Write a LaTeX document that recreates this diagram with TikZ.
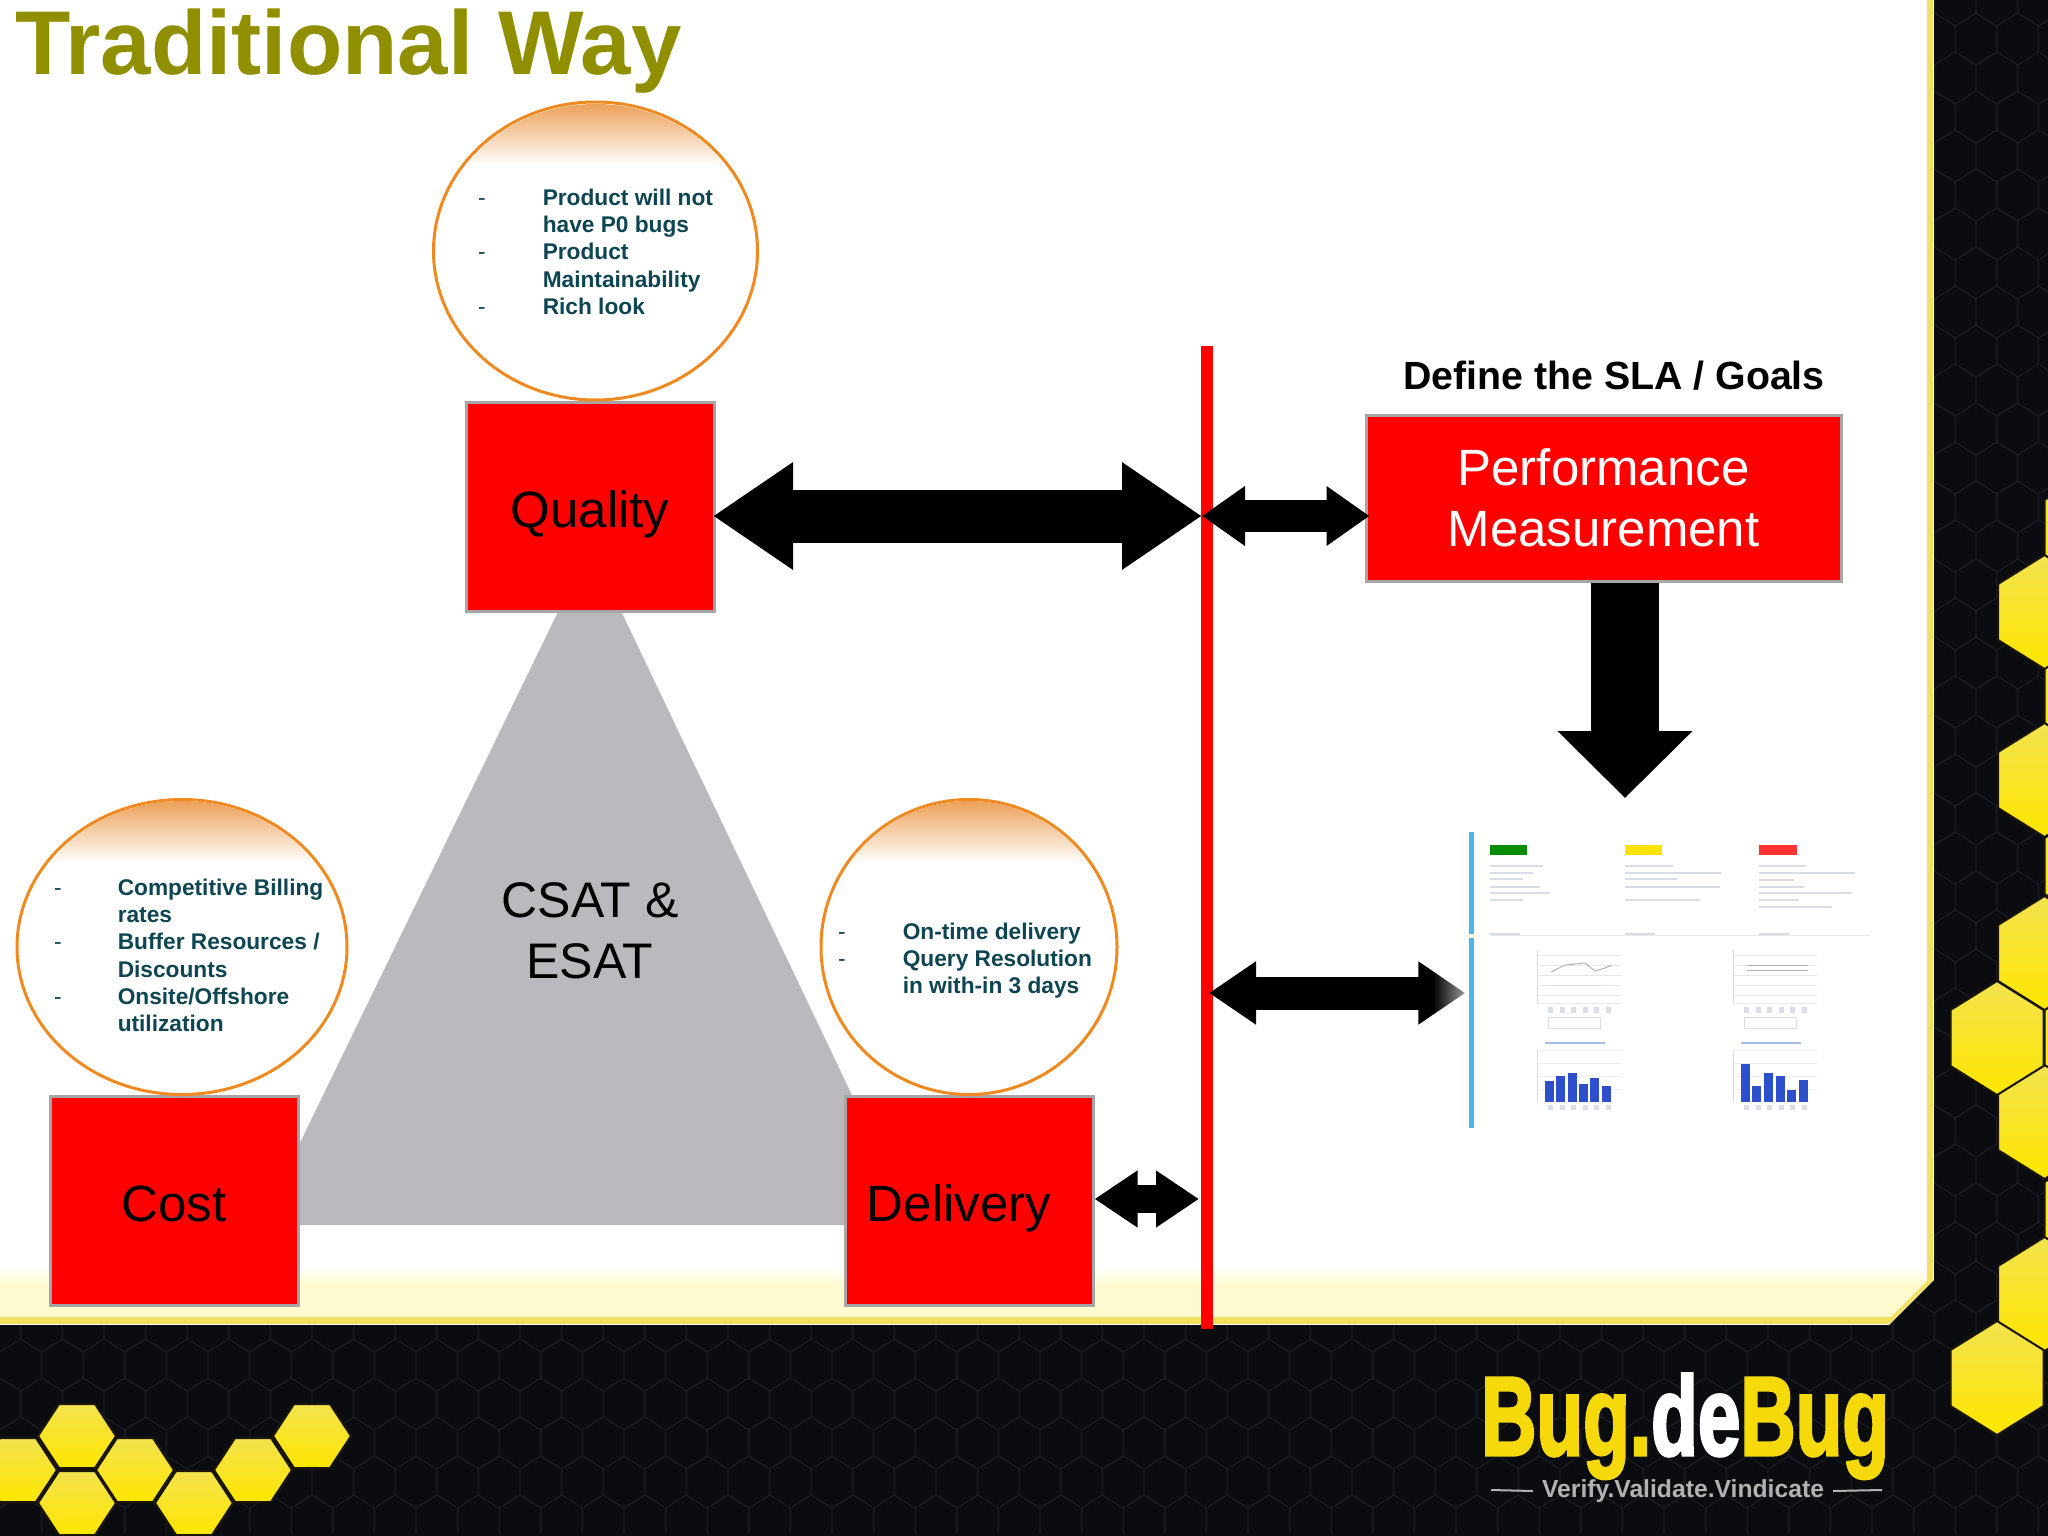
\documentclass[tikz,border=0pt]{standalone}
\usepackage{fontspec}
\setmainfont{Liberation Sans}
\newfontfamily\logofont{Liberation Sans Bold}[FakeBold=3]
\usetikzlibrary{arrows.meta}
\usetikzlibrary{fadings}
\usetikzlibrary{shapes.geometric}
\definecolor{backdark}{HTML}{0A0C10}
\definecolor{combline}{HTML}{181B20}
\definecolor{celledge}{HTML}{1A1608}
\definecolor{edgeyellow}{HTML}{F2E15C}
\definecolor{paleyellow}{HTML}{FEFAD0}
\definecolor{cellyellow}{HTML}{FFE600}
\definecolor{celllight}{HTML}{F3E34E}
\definecolor{titleolive}{HTML}{8F8F00}
\definecolor{noteteal}{HTML}{0E4552}
\definecolor{capband}{HTML}{EB9C50}
\definecolor{capedge}{HTML}{F08A20}
\definecolor{boxedge}{HTML}{A6A6A6}
\definecolor{trianglegray}{HTML}{BBB9BD}
\definecolor{dashblue}{HTML}{4DB5EE}
\definecolor{dashbar}{HTML}{2E4FCB}
\definecolor{dashrow}{HTML}{D9DDE6}
\definecolor{logoyellow}{HTML}{F5D90A}
\tikzfading[name=tipfade, left color=transparent!100, right color=transparent!35]
\newcommand{\hexcell}[2]{\shadedraw[draw=celledge,line width=2pt,top color=celllight,bottom color=cellyellow] (#1-46.5,#2-28)--(#1,#2-57)--(#1+46.5,#2-28)--(#1+46.5,#2+28)--(#1,#2+57)--(#1-46.5,#2+28)--cycle;}
\newcommand{\flatcell}[2]{\shadedraw[draw=celledge,line width=2pt,top color=celllight,bottom color=cellyellow] (#1-39,#2)--(#1-18,#2-32)--(#1+18,#2-32)--(#1+39,#2)--(#1+18,#2+32)--(#1-18,#2+32)--cycle;}
\begin{document}
\begin{tikzpicture}[x=1pt,y=-1pt,
factor/.style={rectangle,draw=boxedge,line width=3pt,fill=red,minimum width=248pt,minimum height=209pt,inner sep=0pt,font=\fontsize{51}{61}\selectfont,align=center},
oneline/.style={text height=41pt,text depth=0pt},
bubble/.style={ellipse,draw=capedge,line width=3pt,fill=white,inner sep=0pt},
note/.style={anchor=north west,inner sep=0pt,text=noteteal,font=\fontsize{22.7}{27.3}\selectfont\bfseries},
blockarrow/.style args={#1/#2/#3}{line width=#1pt,arrows={{Triangle[length=#2pt,width=#3pt]}-{Triangle[length=#2pt,width=#3pt]}}},
]
\useasboundingbox (0,0) rectangle (2048,1536);
\fill[backdark] (0,0) rectangle (2048,1536);
\foreach \row in {0,...,39}
 \foreach \col in {0,...,49}{
  \pgfmathsetmacro{\hx}{\col*41.6+mod(\row,2)*20.8}
  \pgfmathsetmacro{\hy}{\row*39}
  \draw[combline,line width=1.4pt] (\hx-20.8,\hy-13)--(\hx,\hy-26)--(\hx+20.8,\hy-13)--(\hx+20.8,\hy+13);
 }
\foreach \cx/\cy in {2091/528,2091/696,2091/866,2091/1038,2091/1210,2044.5/612,2044.5/780,2044.5/953,2044.5/1122,2044.5/1294,1997/1038,1997/1378}
 \hexcell{\cx}{\cy}
\foreach \cx/\cy in {18/1470,77/1436,135/1470,77/1503,194/1503,253/1470,312/1436}
 \flatcell{\cx}{\cy}
\fill[white] (0,0)--(1933,0)--(1933,1280)--(1889,1324)--(0,1324)--cycle;
\begin{scope}
 \clip (0,0)--(1933,0)--(1933,1280)--(1889,1324)--(0,1324)--cycle;
 \shade[top color=white,bottom color=paleyellow] (0,1266) rectangle (1933,1285);
 \fill[paleyellow] (0,1285) rectangle (1933,1324);
 \fill[edgeyellow] (0,1317) rectangle (1933,1324);
 \fill[edgeyellow] (1927,0) rectangle (1933,1290);
 \draw[edgeyellow,line width=7pt] (1933,1280)--(1889,1324);
\end{scope}
\node[anchor=base west,inner sep=0pt,text=titleolive,font=\fontsize{90.6}{100}\selectfont\bfseries](title) at (15,75){Traditional Way};
\fill[trianglegray] (590,546)--(260,1225)--(914,1225)--cycle;
\node[font=\fontsize{50}{61}\selectfont,align=center](csat) at (590,931){CSAT \&\\ESAT};
\node[factor,oneline](quality) at (590,506.5){Quality};
\node[factor,oneline](cost) at (174,1200.5){Cost};
\node[factor,oneline](delivery) at (969,1200.5){Delivery\hspace*{20pt}};
\node[factor,text=white,minimum width=475pt,minimum height=166pt](perfmeasure) at (1603.5,498){Performance\\Measurement};
\node[font=\fontsize{39.3}{47}\selectfont\bfseries](slagoals) at (1614,376){Define the SLA / Goals};
\node[bubble,minimum width=324pt,minimum height=298pt](bubbletop) at (595.5,251){};
\node[bubble,minimum width=330pt,minimum height=295pt](bubbleleft) at (182,947){};
\node[bubble,minimum width=296pt,minimum height=295pt](bubbleright) at (969,947){};
\foreach \bub/\rx/\ry in {bubbletop/160/147,bubbleleft/163/146,bubbleright/146/146}{
 \begin{scope}
  \clip (\bub) ellipse [x radius=\rx,y radius=\ry];
  \shade[top color=capband,bottom color=white] ([xshift=-170pt]\bub.north) rectangle ([xshift=170pt,yshift=-65pt]\bub.north);
 \end{scope}
}
\node[note](notetop) at (478,186){\begin{tabular}{@{}l@{\hspace{57pt}}l@{}}
\textmd{-} & Product will not\\ & have P0 bugs\\ \textmd{-} & Product\\ & Maintainability\\ \textmd{-} & Rich look
\end{tabular}};
\node[note](noteleft) at (54,876){\begin{tabular}{@{}l@{\hspace{56pt}}l@{}}
\textmd{-} & Competitive Billing\\ & rates\\ \textmd{-} & Buffer Resources /\\ & Discounts\\ \textmd{-} & Onsite/Offshore\\ & utilization
\end{tabular}};
\node[note](noteright) at (838,920){\begin{tabular}{@{}l@{\hspace{57pt}}l@{}}
\textmd{-} & On-time delivery\\ \textmd{-} & Query Resolution\\ & in with-in 3 days
\end{tabular}};
\coordinate(linetop) at (1207,346);
\coordinate(linebottom) at (1207,1329);
\coordinate(lineq) at (1202,516);
\coordinate(linedash) at (1209,993);
\coordinate(linedeliv) at (1199,1199);
\coordinate(dashtop) at (1625,798);
\draw[red,line width=12pt] (linetop)--(linebottom);
\node[minimum width=410pt,minimum height=320pt,inner sep=0pt](dashboard) at (1668,985){};
\fill[dashblue] (1469,832) rectangle (1474,934);
\fill[dashblue] (1469,938) rectangle (1474,1128);
\draw[dashrow!60,line width=1pt] (1490,935)--(1870,935);
\fill[green!55!black] (1490,845) rectangle (1527,855);
\fill[yellow!85!orange] (1625,845) rectangle (1662,855);
\fill[red!80!white] (1759,845) rectangle (1797,855);
\foreach \rx/\ry/\rw in {1490/866/53,1490/873/43,1490/879/33,1490/887/50,1490/893/60,1490/900/33,
 1625/866/48,1625/873/96,1625/879/52,1625/887/95,1625/900/75,
 1759/866/47,1759/873/96,1759/880/35,1759/887/45,1759/893/93,1759/900/40,1759/907/73,
 1490/934/30,1625/934/30,1759/934/30}
 \draw[dashrow,line width=1.5pt] (\rx,\ry)--+(\rw,0);
\foreach \gx in {1537,1733}{
 \foreach \gy in {955,965,975,985,995,1003}
  \draw[dashrow!70,line width=.7pt] (\gx,\gy)--+(84,0);
 \foreach \gy in {1050,1063,1076,1089}
  \draw[dashrow!50,line width=.7pt] (\gx,\gy)--+(84,0);
 \foreach \tk in {0,...,5}{
  \fill[dashrow] (\gx+11+\tk*11.5,1007) rectangle +(5,6);
  \fill[dashrow] (\gx+11+\tk*11.5,1105) rectangle +(5,5);
 }
 \draw[dashrow,line width=1pt] (\gx+11,1017) rectangle +(52,11);
 \draw[dashrow,line width=1pt] (\gx,950)--(\gx,1004);
 \draw[dashrow,line width=1pt] (\gx,1050)--(\gx,1102);
 \draw[dashbar!40,line width=1.5pt] (\gx+8,1043)--+(60,0);
}
\draw[dashrow!80!black,line width=1pt] (1551,972)--(1565,965)--(1585,963)--(1595,971)--(1605,968)--(1612,965);
\draw[dashrow,line width=1pt] (1551,985)--(1604,985);
\draw[dashrow!80!black,line width=1pt] (1747,965)--(1808,965);
\draw[dashrow!80!black,line width=1pt] (1747,970)--(1808,970);
\foreach \bx/\by in {1545/1081,1556/1076,1568/1073,1579/1084,1590/1078,1602/1086,
 1741/1064,1752/1086,1764/1073,1776/1076,1787/1090,1799/1080}
 \fill[dashbar] (\bx,\by) rectangle (\bx+8.5,1102);
\draw[blockarrow=53/80/102,shorten <=-2.5pt] (quality.east |- lineq)--(lineq);
\draw[blockarrow=32/43/57,shorten >=-5pt] (lineq)--(perfmeasure.west |- lineq);
\draw[blockarrow=33/47/60,shorten >=-2.5pt] (linedash)--(dashboard.west |- linedash);
\draw[blockarrow=28/43/54] (delivery.east |- linedeliv)--(linedeliv);
\draw[line width=68pt,arrows={-{Triangle[length=67pt,width=131pt]}}] (perfmeasure.south -| dashtop)--(dashtop);
\fill[white,path fading=tipfade] (1433,955) rectangle (1468,1031);
\node[anchor=base west,inner sep=0pt,font=\fontsize{112}{116}\logofont](logo) at (1481,1455){\scalebox{.683}[1]{\textcolor{logoyellow}{Bug.}\textcolor{white}{de}\textcolor{logoyellow}{Bug}}};
\node[inner xsep=9pt,inner ysep=0pt,text=black!30,font=\fontsize{24.7}{28}\selectfont\bfseries](tagline) at (1683,1491){Verify.Validate.Vindicate};
\draw[black!30,line width=2pt] (1491,1490)--(tagline.west);
\draw[black!30,line width=2pt] (tagline.east)--(1882,1490);
\end{tikzpicture}
\end{document}
